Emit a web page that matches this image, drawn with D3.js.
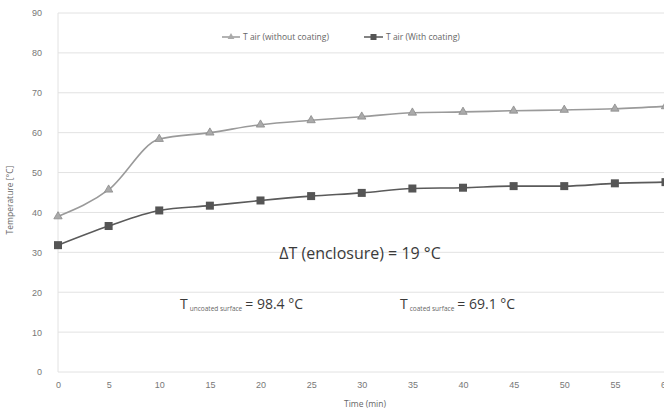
<!DOCTYPE html>
<html>
<head>
<meta charset="utf-8">
<script src="https://cdn.jsdelivr.net/npm/d3@7"></script>
<style>
  body { margin: 0; background: #fff; }
  svg { display: block; font-family: "Open Sans", "Liberation Sans", sans-serif; }
  .tick text { fill: #777; font-size: 9px; }
</style>
</head>
<body>
<svg id="chart" width="664" height="413"></svg>
<script>
// values
const times = [0, 5, 10, 15, 20, 25, 30, 35, 40, 45, 50, 55, 60];
const withoutCoating = [39.0, 45.7, 58.4, 60.0, 62.0, 63.1, 64.0, 65.0, 65.2, 65.5, 65.7, 66.0, 66.6];
const withCoating = [31.8, 36.6, 40.5, 41.7, 43.0, 44.1, 44.9, 46.0, 46.2, 46.6, 46.6, 47.3, 47.6];
const yTicks = [0, 10, 20, 30, 40, 50, 60, 70, 80, 90];
const xTicks = [0, 5, 10, 15, 20, 25, 30, 35, 40, 45, 50, 55, 60];
const seriesNames = ["T air (without coating)", "T air (With coating)"];

let svg = d3.select("#chart");
let x = d3.scaleLinear().domain([0, 60]).range([58, 665.5]);
let y = d3.scaleLinear().domain([0, 90]).range([372, 13]);

// grid
svg.append("g").selectAll("line").data(yTicks).enter().append("line")
  .attr("x1", 58).attr("x2", 664)
  .attr("y1", d => y(d)).attr("y2", d => y(d))
  .attr("stroke", "#e2e2e2").attr("stroke-width", 1);

svg.append("line").attr("x1", 58).attr("x2", 58).attr("y1", y(90)).attr("y2", y(0))
  .attr("stroke", "#e2e2e2");

let yAxis = svg.append("g").attr("transform", "translate(58,0)")
  .call(d3.axisLeft(y).tickValues(yTicks).tickSize(0).tickPadding(16));
yAxis.select(".domain").remove();

let xAxis = svg.append("g").attr("transform", "translate(0," + y(0) + ")")
  .call(d3.axisBottom(x).tickValues(xTicks).tickSize(0).tickPadding(10));
xAxis.select(".domain").remove();

svg.append("text").attr("transform", "translate(13,200) rotate(-90)")
  .attr("text-anchor", "middle").attr("font-size", 8.5).attr("fill", "#666")
  .text("Temperature [°C]");
svg.append("text").attr("x", 365).attr("y", 407)
  .attr("text-anchor", "middle").attr("font-size", 8.5).attr("fill", "#666")
  .text("Time (min)");

// lines
let line = d3.line().curve(d3.curveMonotoneX);
let ptsA = times.map((t, i) => [x(t), y(withoutCoating[i])]);
let ptsB = times.map((t, i) => [x(t), y(withCoating[i])]);

svg.append("path").attr("d", line(ptsA)).attr("fill", "none")
  .attr("stroke", "#9a9a9a").attr("stroke-width", 1.6);
svg.append("path").attr("d", line(ptsB)).attr("fill", "none")
  .attr("stroke", "#5a5a5a").attr("stroke-width", 1.6);

let tri = d3.symbol().type(d3.symbolTriangle).size(30);
svg.append("g").selectAll("path").data(ptsA).enter().append("path")
  .attr("d", tri).attr("transform", d => "translate(" + d[0] + "," + d[1] + ")")
  .attr("fill", "#aaa").attr("stroke", "#8a8a8a").attr("stroke-width", 0.8);

svg.append("g").selectAll("rect").data(ptsB).enter().append("rect")
  .attr("x", d => d[0] - 4).attr("y", d => d[1] - 4)
  .attr("width", 8).attr("height", 8).attr("fill", "#555");

// legend
let leg = svg.append("g").attr("font-size", 8.5).attr("fill", "#666");
leg.append("line").attr("x1", 222).attr("x2", 240).attr("y1", 37).attr("y2", 37)
  .attr("stroke", "#9a9a9a").attr("stroke-width", 1.5);
leg.append("path").attr("d", d3.symbol().type(d3.symbolTriangle).size(20))
  .attr("transform", "translate(231,37)").attr("fill", "#aaa");
leg.append("text").attr("x", 243).attr("y", 40).text(seriesNames[0]);
leg.append("line").attr("x1", 364).attr("x2", 383).attr("y1", 37).attr("y2", 37)
  .attr("stroke", "#5a5a5a").attr("stroke-width", 1.5);
leg.append("rect").attr("x", 370.5).attr("y", 34).attr("width", 6).attr("height", 6).attr("fill", "#555");
leg.append("text").attr("x", 386).attr("y", 40).text(seriesNames[1]);

// annotations
svg.append("text").attr("x", 360).attr("y", 259).attr("text-anchor", "middle")
  .attr("font-size", 16).attr("fill", "#3a3a3a").text("ΔT (enclosure) = 19 °C");

let a1 = svg.append("text").attr("x", 180).attr("y", 309).attr("fill", "#3a3a3a").attr("font-size", 14);
a1.append("tspan").text("T");
a1.append("tspan").attr("font-size", 6.5).attr("dx", 2).attr("dy", 2).attr("fill", "#666").text("uncoated surface");
a1.append("tspan").attr("dy", -2).attr("dx", 3).text("= 98.4 °C");

let a2 = svg.append("text").attr("x", 400).attr("y", 309).attr("fill", "#3a3a3a").attr("font-size", 14);
a2.append("tspan").text("T");
a2.append("tspan").attr("font-size", 6.5).attr("dx", 2).attr("dy", 2).attr("fill", "#666").text("coated surface");
a2.append("tspan").attr("dy", -2).attr("dx", 3).text("= 69.1 °C");
</script>
</body>
</html>
